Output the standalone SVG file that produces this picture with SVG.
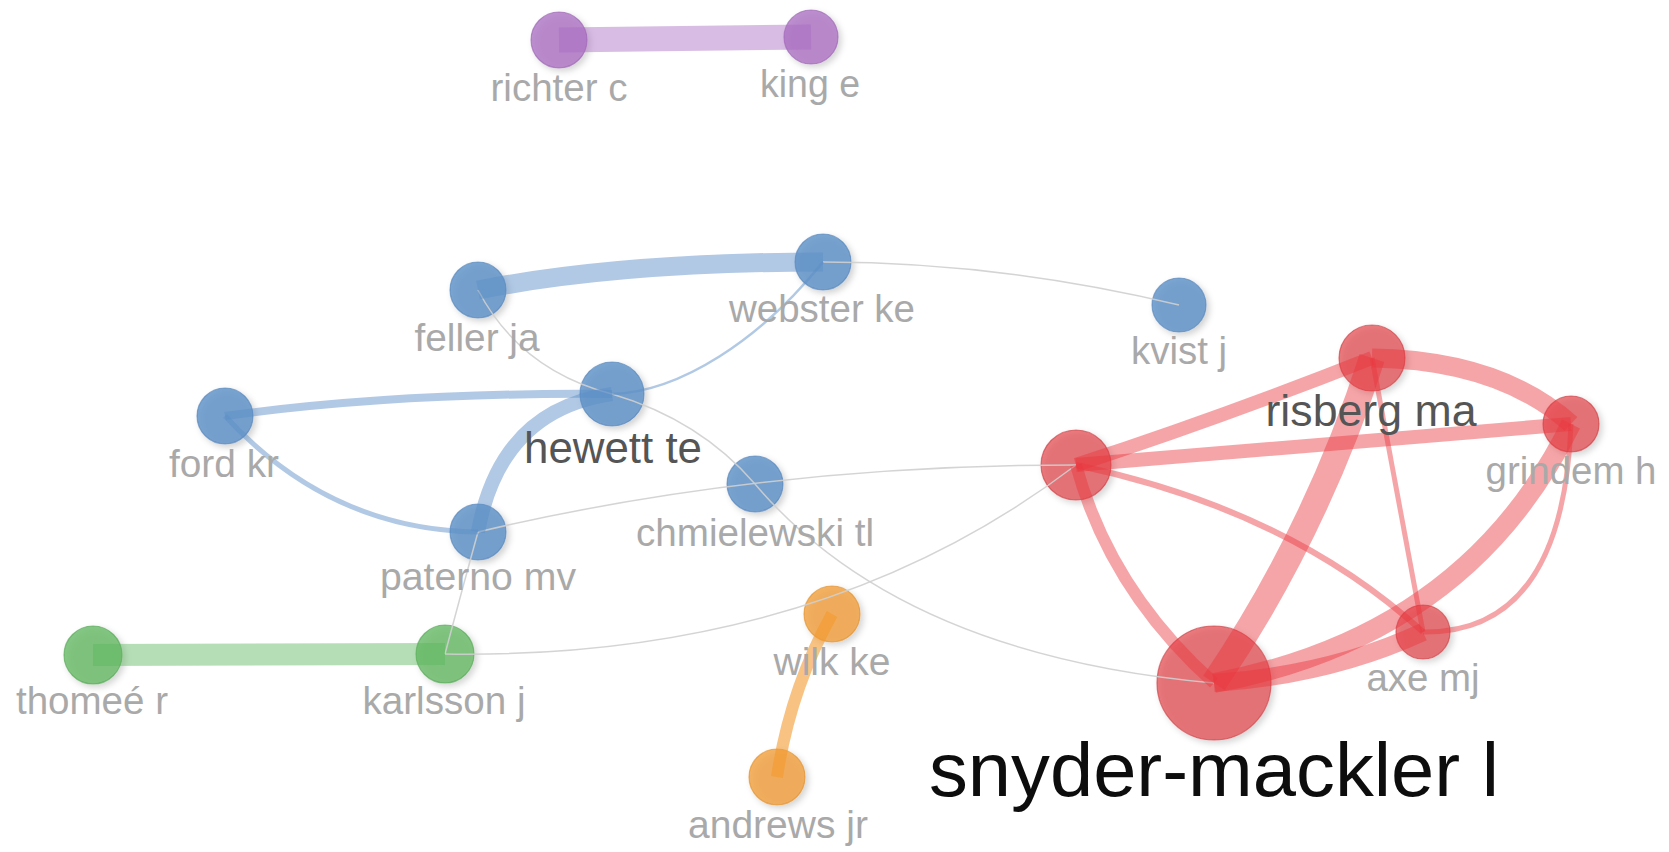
<svg xmlns="http://www.w3.org/2000/svg" width="1669" height="852" viewBox="0 0 1669 852">
<defs>
<filter id="sh" x="-50%" y="-50%" width="200%" height="200%">
<feDropShadow dx="3" dy="3" stdDeviation="3" flood-color="#000" flood-opacity="0.22"/>
</filter>
<style>
.n{filter:url(#sh);stroke-width:1.2}
.blue{fill:#5b8ec6;fill-opacity:.8;stroke:#4a7db5;stroke-opacity:.6}
.red{fill:#e0484e;fill-opacity:.72;stroke:#c83036;stroke-opacity:.6}
.purple{fill:#a86bc0;fill-opacity:.75;stroke:#9258ab;stroke-opacity:.6}
.green{fill:#5db55d;fill-opacity:.75;stroke:#4aa04a;stroke-opacity:.6}
.orange{fill:#f09a30;fill-opacity:.75;stroke:#e08820;stroke-opacity:.6}
.e{fill:none;stroke-linecap:butt}
.eg{stroke:#cfcfcf;stroke-width:1.5;stroke-opacity:.9}
.eb{stroke:#5b8ec6;stroke-opacity:.48}
.er{stroke:#e8383f;stroke-opacity:.45}
.ep{stroke:#a86bc0;stroke-opacity:.45}
.egr{stroke:#5db55d;stroke-opacity:.45}
.eo{stroke:#f39a2e;stroke-opacity:.6}
.l{font-family:"Liberation Sans",Arial,sans-serif;font-size:38px;fill:#a9a9a9;text-anchor:middle}
.ld{fill:#555555;font-size:45px}
.lb{fill:#0d0d0d;font-size:76px}
</style>
</defs>
<rect width="1669" height="852" fill="#ffffff"/>

<g id="node-richter-c"><circle class="n purple" cx="559" cy="40" r="28"/></g>
<g id="node-king-e"><circle class="n purple" cx="811" cy="37" r="27"/></g>
<g id="node-feller-ja"><circle class="n blue" cx="478" cy="290" r="28"/></g>
<g id="node-webster-ke"><circle class="n blue" cx="823" cy="262" r="28"/></g>
<g id="node-kvist-j"><circle class="n blue" cx="1179" cy="305" r="27"/></g>
<g id="node-hewett-te"><circle class="n blue" cx="612" cy="394" r="32"/></g>
<g id="node-ford-kr"><circle class="n blue" cx="225" cy="416" r="28"/></g>
<g id="node-chmielewski-tl"><circle class="n blue" cx="755" cy="484" r="28"/></g>
<g id="node-paterno-mv"><circle class="n blue" cx="478" cy="532" r="28"/></g>
<g id="node-risberg-ma"><circle class="n red" cx="1372" cy="358" r="33"/></g>
<g id="node-grindem-h"><circle class="n red" cx="1571" cy="424" r="28"/></g>
<g id="node-red-unlabelled"><circle class="n red" cx="1076" cy="465" r="35"/></g>
<g id="node-axe-mj"><circle class="n red" cx="1423" cy="632" r="27"/></g>
<g id="node-snyder-mackler-l"><circle class="n red" cx="1214" cy="683" r="57"/></g>
<g id="node-wilk-ke"><circle class="n orange" cx="832" cy="614" r="28"/></g>
<g id="node-andrews-jr"><circle class="n orange" cx="777" cy="777" r="28"/></g>
<g id="node-thomee-r"><circle class="n green" cx="93" cy="655" r="29"/></g>
<g id="node-karlsson-j"><circle class="n green" cx="445" cy="654" r="29"/></g>

<g id="connectors">
<path class="e eg" d="M478,290 Q520,370 612,394"/>
<path class="e eg" d="M823,262 Q1000,262 1179,305"/>
<path class="e eg" d="M612,394 Q700,420 755,484"/>
<path class="e eg" d="M755,484 Q900,655 1214,683"/>
<path class="e eg" d="M478,532 Q760,465 1076,465"/>
<path class="e eg" d="M445,654 Q820,660 1076,465"/>
<path class="e eg" d="M445,654 Q462,590 478,532"/>

<path class="e ep" stroke-width="25" d="M559,40 L811,37"/>
<path class="e egr" stroke-width="22" d="M93,655 L445,654"/>
<path class="e eo" stroke-width="12" d="M832,614 Q790,690 777,777"/>

<path class="e eb" stroke-width="19" d="M478,290 Q620,262 823,262"/>
<path class="e eb" stroke-width="8" d="M225,416 Q400,392 612,394"/>
<path class="e eb" stroke-width="5" d="M225,416 Q330,530 478,532"/>
<path class="e eb" stroke-width="14" d="M478,532 Q500,410 612,394"/>
<path class="e eb" stroke-width="2.5" d="M612,394 C680,392 760,340 823,262"/>

<path class="e er" stroke-width="14" d="M1076,465 Q1220,418 1372,358"/>
<path class="e er" stroke-width="14" d="M1076,465 L1571,424"/>
<path class="e er" stroke-width="12" d="M1076,465 Q1110,590 1214,683"/>
<path class="e er" stroke-width="6" d="M1076,465 Q1290,510 1423,632"/>
<path class="e er" stroke-width="19" d="M1372,358 Q1500,360 1571,424"/>
<path class="e er" stroke-width="26" d="M1372,358 Q1316,532 1214,683"/>
<path class="e er" stroke-width="5" d="M1372,358 L1423,632"/>
<path class="e er" stroke-width="20" d="M1571,424 Q1467,636 1214,683"/>
<path class="e er" stroke-width="5" d="M1571,424 Q1563,634 1423,632"/>
<path class="e er" stroke-width="18" d="M1214,683 Q1330,675 1423,632"/>
</g>

<g id="labels">
<text class="l" x="559" y="101" textLength="137" lengthAdjust="spacingAndGlyphs">richter c</text>
<text class="l" x="810" y="97" textLength="100" lengthAdjust="spacingAndGlyphs">king e</text>
<text class="l" x="477" y="351" textLength="125" lengthAdjust="spacingAndGlyphs">feller ja</text>
<text class="l" x="822" y="322" textLength="186" lengthAdjust="spacingAndGlyphs">webster ke</text>
<text class="l" x="1179" y="364" textLength="96" lengthAdjust="spacingAndGlyphs">kvist j</text>
<text class="l ld" x="613" y="463" textLength="178" lengthAdjust="spacingAndGlyphs">hewett te</text>
<text class="l" x="224" y="477" textLength="110" lengthAdjust="spacingAndGlyphs">ford kr</text>
<text class="l" x="755" y="546" textLength="238" lengthAdjust="spacingAndGlyphs">chmielewski tl</text>
<text class="l" x="478" y="590" textLength="196" lengthAdjust="spacingAndGlyphs">paterno mv</text>
<text class="l ld" x="1371" y="426" textLength="211" lengthAdjust="spacingAndGlyphs">risberg ma</text>
<text class="l" x="1571" y="484" textLength="171" lengthAdjust="spacingAndGlyphs">grindem h</text>
<text class="l" x="1423" y="691" textLength="113" lengthAdjust="spacingAndGlyphs">axe mj</text>
<text class="l lb" x="1214" y="796" textLength="570" lengthAdjust="spacingAndGlyphs">snyder-mackler l</text>
<text class="l" x="832" y="675" textLength="117" lengthAdjust="spacingAndGlyphs">wilk ke</text>
<text class="l" x="778" y="838" textLength="180" lengthAdjust="spacingAndGlyphs">andrews jr</text>
<text class="l" x="92" y="714" textLength="152" lengthAdjust="spacingAndGlyphs">thomeé r</text>
<text class="l" x="444" y="714" textLength="163" lengthAdjust="spacingAndGlyphs">karlsson j</text>
</g>
</svg>
